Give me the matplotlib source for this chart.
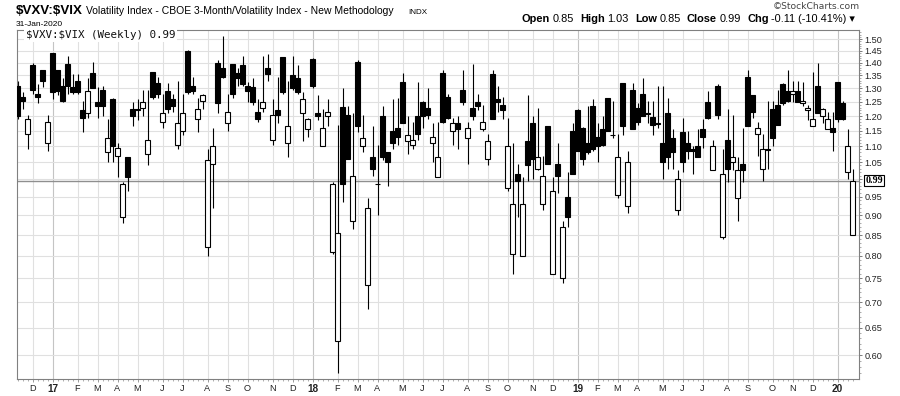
"""Weekly candlestick chart of the $VXV:$VIX ratio in StockCharts style (Nov 2016 - Jan 2020)."""

import numpy as np
import pandas as pd
import matplotlib

matplotlib.use("Agg")
import matplotlib.pyplot as plt
from matplotlib.ticker import FixedLocator, NullFormatter

W, H = 900, 396
FIRST_WEEK = "2016-11-14"  # Monday of the first weekly candle

# weekly OHLC
OPENS = [
    1.31, 1.27, 1.14, 1.39, 1.28, 1.37, 1.11, 1.44, 1.37, 1.31, 1.395, 1.305,
    1.33, 1.22, 1.21, 1.36, 1.25, 1.295, 1.08, 1.26, 1.07, 0.895, 1.065, 1.225,
    1.225, 1.23, 1.075, 1.365, 1.32, 1.18, 1.29, 1.26, 1.105, 1.15, 1.45, 1.31,
    1.19, 1.255, 0.82, 1.045, 1.40, 1.38, 1.175, 1.395, 1.36, 1.39, 1.31, 1.305,
    1.215, 1.23, 1.38, 1.12, 1.22, 1.425, 1.11, 1.35, 1.34, 1.21, 1.155, 1.415,
    1.21, 1.10, 1.20, 0.81, 0.625, 1.233, 1.205, 0.885, 1.405, 1.10, 0.735, 1.065,
    0.985, 1.20, 1.08, 1.15, 1.16, 1.325, 1.115, 1.105, 1.20, 1.25, 1.23, 1.11,
    1.005, 1.36, 1.27, 1.15, 1.175, 1.295, 1.125, 1.23, 1.25, 1.155, 1.06, 1.355,
    1.26, 1.24, 0.975, 0.805, 1.015, 0.80, 1.115, 1.175, 1.03, 0.93, 1.165, 0.76,
    1.045, 0.75, 0.95, 1.15, 1.22, 1.16, 1.11, 1.235, 1.13, 1.155, 1.265, 1.135,
    0.955, 1.32, 0.925, 1.295, 1.23, 1.28, 1.21, 1.198, 1.175, 1.11, 1.21, 1.125,
    0.915, 1.145, 1.11, 1.09, 1.10, 1.155, 1.25, 1.025, 1.31, 0.845, 1.12, 1.05,
    0.945, 1.045, 1.345, 1.275, 1.14, 1.03, 1.092, 1.225, 1.24, 1.315, 1.29, 1.28,
    1.29, 1.245, 1.22, 1.165, 1.31, 1.20, 1.155, 1.16, 1.325, 1.245, 1.02, 0.85,
]
HIGHS = [
    1.33, 1.285, 1.205, 1.40, 1.315, 1.37, 1.205, 1.44, 1.37, 1.34, 1.43, 1.355,
    1.355, 1.255, 1.34, 1.405, 1.305, 1.31, 1.19, 1.265, 1.11, 0.99, 1.065, 1.25,
    1.26, 1.295, 1.295, 1.365, 1.345, 1.28, 1.32, 1.28, 1.33, 1.28, 1.455, 1.345,
    1.265, 1.28, 1.09, 1.16, 1.41, 1.515, 1.28, 1.395, 1.38, 1.43, 1.325, 1.34,
    1.26, 1.43, 1.435, 1.26, 1.345, 1.425, 1.33, 1.43, 1.39, 1.285, 1.195, 1.42,
    1.275, 1.225, 1.26, 0.99, 1.17, 1.30, 1.235, 1.21, 1.41, 1.205, 0.945, 1.165,
    1.105, 1.235, 1.08, 1.26, 1.265, 1.36, 1.20, 1.18, 1.325, 1.255, 1.30, 1.175,
    1.18, 1.37, 1.28, 1.195, 1.20, 1.37, 1.18, 1.395, 1.28, 1.24, 1.14, 1.37,
    1.31, 1.27, 1.195, 1.11, 1.045, 1.005, 1.275, 1.20, 1.23, 1.07, 1.167, 1.005,
    1.11, 0.885, 1.02, 1.175, 1.225, 1.162, 1.235, 1.26, 1.175, 1.20, 1.265, 1.255,
    1.14, 1.32, 1.085, 1.32, 1.245, 1.34, 1.255, 1.255, 1.31, 1.31, 1.265, 1.155,
    1.025, 1.195, 1.15, 1.10, 1.155, 1.19, 1.29, 1.12, 1.315, 1.09, 1.225, 1.205,
    1.065, 1.16, 1.37, 1.275, 1.18, 1.14, 1.255, 1.255, 1.295, 1.32, 1.37, 1.33,
    1.33, 1.325, 1.24, 1.365, 1.40, 1.23, 1.215, 1.215, 1.325, 1.255, 1.155, 1.03,
]
LOWS = [
    1.19, 1.225, 1.09, 1.28, 1.245, 1.305, 1.085, 1.26, 1.275, 1.25, 1.28, 1.28,
    1.28, 1.145, 1.195, 1.30, 1.195, 1.20, 1.05, 1.05, 1.005, 0.88, 0.965, 1.165,
    1.185, 1.20, 1.04, 1.26, 1.265, 1.16, 1.21, 1.215, 1.09, 1.135, 1.28, 1.28,
    1.145, 1.225, 0.80, 0.92, 1.21, 1.34, 1.15, 1.265, 1.31, 1.31, 1.25, 1.24,
    1.18, 1.215, 1.33, 1.105, 1.175, 1.28, 1.065, 1.295, 1.28, 1.115, 1.13, 1.30,
    1.185, 1.10, 1.165, 0.805, 0.57, 0.935, 1.06, 0.865, 1.145, 1.08, 0.685, 1.01,
    0.90, 1.055, 0.98, 1.09, 1.105, 1.175, 1.075, 1.09, 1.12, 1.16, 1.19, 1.05,
    1.005, 1.175, 1.19, 1.105, 1.09, 1.24, 1.045, 1.185, 1.222, 1.15, 1.04, 1.19,
    1.215, 1.19, 0.965, 0.76, 0.895, 0.80, 0.995, 1.00, 1.025, 0.915, 1.045, 0.76,
    0.96, 0.74, 0.87, 1.015, 1.085, 1.04, 1.075, 1.085, 1.05, 1.10, 1.15, 1.125,
    0.945, 1.135, 0.905, 1.155, 1.17, 1.20, 1.175, 1.135, 1.16, 1.00, 1.03, 1.03,
    0.90, 1.02, 1.06, 1.015, 1.065, 1.095, 1.19, 1.025, 1.19, 0.84, 0.99, 1.025,
    0.885, 0.99, 1.165, 1.195, 1.07, 0.995, 1.03, 1.10, 1.17, 1.24, 1.25, 1.25,
    1.25, 1.235, 1.185, 1.165, 1.21, 1.175, 1.155, 1.085, 1.18, 1.185, 1.00, 0.85,
]
CLOSES = [
    1.20, 1.255, 1.19, 1.295, 1.27, 1.33, 1.18, 1.285, 1.29, 1.255, 1.31, 1.285,
    1.285, 1.195, 1.29, 1.30, 1.235, 1.235, 1.125, 1.10, 1.095, 0.985, 1.005, 1.20,
    1.22, 1.25, 1.12, 1.27, 1.28, 1.21, 1.225, 1.235, 1.175, 1.21, 1.285, 1.29,
    1.225, 1.275, 1.055, 1.10, 1.245, 1.345, 1.215, 1.28, 1.34, 1.315, 1.29, 1.25,
    1.19, 1.25, 1.355, 1.205, 1.205, 1.285, 1.165, 1.30, 1.285, 1.26, 1.19, 1.31,
    1.20, 1.16, 1.215, 0.985, 0.855, 0.985, 1.06, 1.01, 1.165, 1.125, 0.92, 1.03,
    0.985, 1.065, 1.05, 1.11, 1.13, 1.175, 1.135, 1.12, 1.14, 1.20, 1.205, 1.13,
    1.065, 1.18, 1.195, 1.175, 1.155, 1.25, 1.16, 1.20, 1.235, 1.18, 1.115, 1.19,
    1.25, 1.22, 1.10, 0.93, 0.995, 0.93, 1.04, 1.06, 1.065, 1.01, 1.045, 0.965,
    1.01, 0.87, 0.895, 1.015, 1.085, 1.06, 1.08, 1.09, 1.10, 1.105, 1.15, 1.135,
    1.065, 1.165, 1.05, 1.155, 1.18, 1.20, 1.207, 1.17, 1.173, 1.05, 1.065, 1.08,
    1.00, 1.05, 1.085, 1.085, 1.065, 1.13, 1.195, 1.10, 1.205, 1.015, 1.03, 1.065,
    1.025, 1.025, 1.165, 1.215, 1.16, 1.09, 1.088, 1.125, 1.17, 1.245, 1.255, 1.29,
    1.25, 1.255, 1.23, 1.19, 1.21, 1.225, 1.19, 1.145, 1.19, 1.19, 1.10, 0.995,
]

Y_TICKS = [0.60, 0.65, 0.70, 0.75, 0.80, 0.85, 0.90, 0.95, 1.00, 1.05,
           1.10, 1.15, 1.20, 1.25, 1.30, 1.35, 1.40, 1.45, 1.50]
MONTH_INITIALS = "JFMAMJJASOND"

SYMBOL = r"\$VXV:\$VIX"
SUBTITLE = "Volatility Index - CBOE 3-Month/Volatility Index - New Methodology"
DATE_TEXT = "31-Jan-2020"
OHLC_PIECES = [("Open", True), ("0.85", False), ("High", True), ("1.03", False),
               ("Low", True), ("0.85", False), ("Close", True), ("0.99", False),
               ("Chg", True), ("-0.11 (-10.41%) \u25be", False)]

SANS = ["Liberation Sans", "DejaVu Sans"]

opens = np.array(OPENS)
highs = np.array(HIGHS)
lows = np.array(LOWS)
closes = np.array(CLOSES)
dates = pd.date_range(FIRST_WEEK, periods=len(OPENS), freq="7D")
idx = np.arange(len(dates))

# month boundaries: first weekly candle of each new month
month_pos, month_lbl, is_year = [], [], []
for i in range(1, len(dates)):
    if dates[i].month != dates[i - 1].month:
        month_pos.append(i)
        if dates[i].month == 1:
            month_lbl.append(f"{dates[i].year % 100:02d}")
            is_year.append(True)
        else:
            month_lbl.append(MONTH_INITIALS[dates[i].month - 1])
            is_year.append(False)

fig = plt.figure(figsize=(W / 100, H / 100), dpi=100)
ax = fig.add_axes([16.5 / W, 1 - 379 / H, (859 - 16.5) / W, (379 - 30) / H])

ax.set_yscale("log")
ax.set_ylim(0.56, 1.54)
ax.set_xlim(-0.2, 168.3)

# grid
for p, yr in zip(month_pos, is_year):
    ax.axvline(p, color="#c4c4c4" if yr else "#e0e0e0", lw=0.8, zorder=0)
for v in Y_TICKS:
    ax.axhline(v, color="#e0e0e0", lw=0.8, zorder=0)

# current close line
ax.axhline(closes[-1], color="#8f8f8f", lw=1.0, zorder=1)

# candles
ax.vlines(idx, lows, highs, color="black", lw=0.8, zorder=2)
up = closes >= opens
ax.bar(idx[up], closes[up] - opens[up], bottom=opens[up], width=0.86,
       facecolor="white", edgecolor="black", linewidth=0.8, zorder=3)
ax.bar(idx[~up], opens[~up] - closes[~up], bottom=closes[~up], width=0.86,
       facecolor="black", edgecolor="black", linewidth=0.8, zorder=3)

# axes styling
for sp in ax.spines.values():
    sp.set_color("#808080")
    sp.set_linewidth(0.8)

ax.yaxis.tick_right()
ax.yaxis.set_major_locator(FixedLocator(Y_TICKS))
ax.yaxis.set_minor_locator(FixedLocator(np.round(np.arange(0.57, 1.54, 0.01), 2)))
ax.yaxis.set_minor_formatter(NullFormatter())
ax.set_yticklabels(["" if abs(v - 1.0) < 1e-9 else f"{v:.2f}" for v in Y_TICKS])
ax.tick_params(axis="y", which="major", length=2.5, width=0.6, color="#666666",
               pad=1.5, labelsize=6.6, labelcolor="#222222")
ax.tick_params(axis="y", which="minor", length=1.2, width=0.5, color="#8c8c8c")

ax.xaxis.set_major_locator(FixedLocator(month_pos))
ax.xaxis.set_minor_locator(FixedLocator(idx))
ax.set_xticklabels(month_lbl)
ax.tick_params(axis="x", which="major", length=2, width=0.6, color="#8c8c8c",
               pad=1.5, labelsize=6.6, labelcolor="#222222")
ax.tick_params(axis="x", which="minor", length=1.2, width=0.5, color="#8c8c8c")
for lbl, yr in zip(ax.get_xticklabels(), is_year):
    lbl.set_family(SANS)
    if yr:
        lbl.set_fontweight("bold")
        lbl.set_fontsize(7.2)
for lbl in ax.get_yticklabels():
    lbl.set_family(SANS)

# last-close marker on the price axis
ax.annotate("0.99", xy=(1, closes[-1]), xycoords=("axes fraction", "data"),
            xytext=(4.5, 0), textcoords="offset points", ha="left", va="center",
            fontsize=7.2, fontweight="bold", family=["Liberation Serif", "DejaVu Serif"],
            bbox=dict(boxstyle="square,pad=0.12", fc="white", ec="black", lw=0.8),
            annotation_clip=False, zorder=5)

# in-chart legend
ax.text(9 / 842.5, 1 - 5 / 349, SYMBOL + " (Weekly) 0.99", transform=ax.transAxes,
        ha="left", va="center", fontsize=7.8, family="DejaVu Sans Mono",
        color="#111111", zorder=6,
        bbox=dict(boxstyle="square,pad=0.15", fc="white", ec="none"))


def fig_xy(x, y):
    return x / W, 1 - y / H


# header
fig.text(*fig_xy(16, 13.5), SYMBOL, fontsize=9.6, fontweight="bold", family=SANS,
         va="baseline")
fig.text(*fig_xy(86, 13.5), SUBTITLE, fontsize=7.5, family=SANS, va="baseline")
fig.text(*fig_xy(408, 13.5), "INDX", fontsize=5.8, family=SANS, va="baseline")
fig.text(*fig_xy(16, 26.5), DATE_TEXT, fontsize=6.0, family=SANS, va="baseline")
fig.text(*fig_xy(860, 9), "\u00a9StockCharts.com", fontsize=6.6, family="DejaVu Sans",
         color="#444444", ha="right", va="baseline")

renderer = fig.canvas.get_renderer()
x = 521.5
for s, bold in OHLC_PIECES:
    t = fig.text(*fig_xy(x, 21.5), s, fontsize=7.9, family=SANS, va="baseline",
                 fontweight="bold" if bold else "normal")
    x += t.get_window_extent(renderer).width + (2.8 if bold else 6.0)

fig.savefig("out.png", dpi=100)
